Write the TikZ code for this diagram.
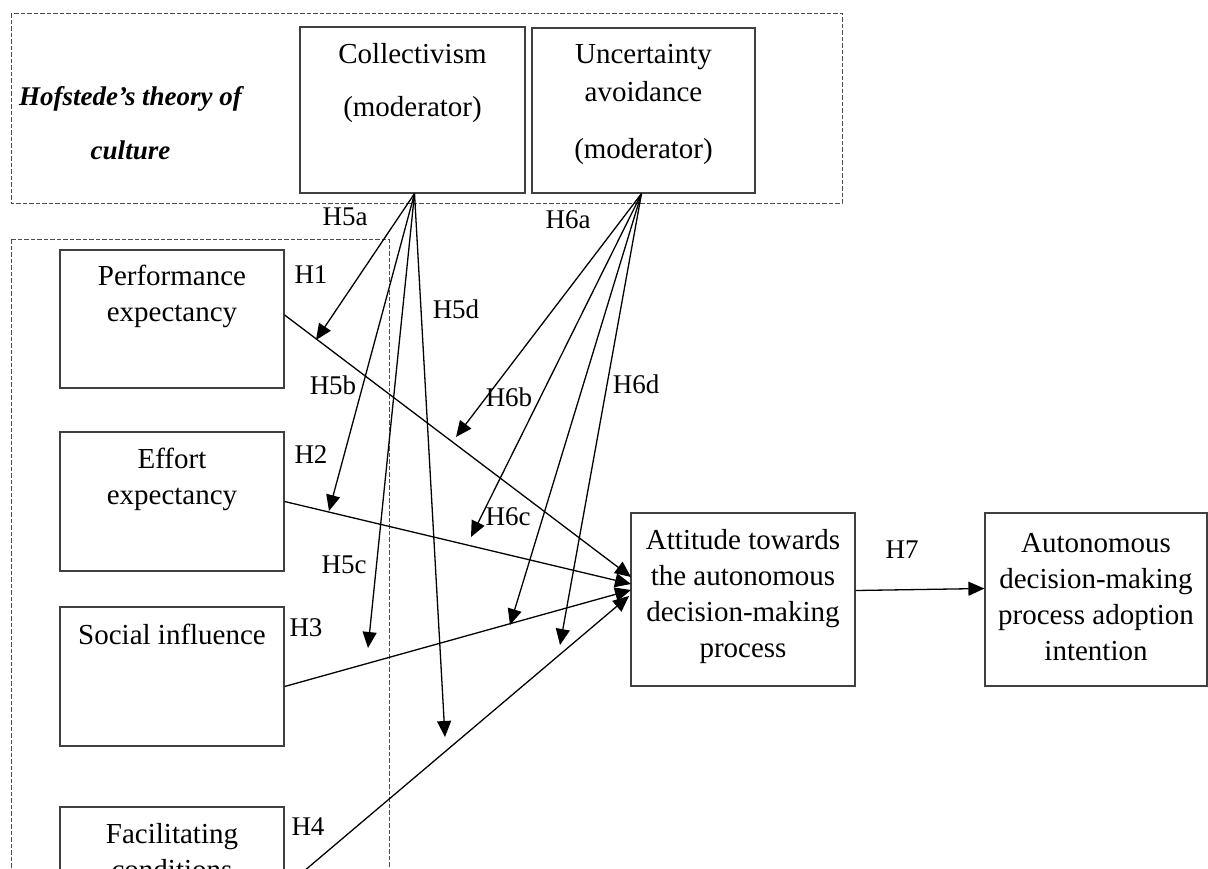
\documentclass[tikz,border=0pt]{standalone}
\usepackage{fontspec}
\setmainfont{Liberation Serif}
\usetikzlibrary{arrows.meta,positioning}

\tikzset{
  box/.style={draw=black!75, line width=1.2pt, rectangle, inner sep=0pt},
  btxt/.style={align=center, inner sep=0pt, font=\fontsize{29}{36}\selectfont},
  hyp/.style={inner sep=0pt, font=\fontsize{27}{32}\selectfont},
  arr/.style={line width=1.3pt, -{Triangle[length=16pt,width=14pt]}},
  frame/.style={draw=black!70, line width=1pt, dash pattern=on 4.5pt off 2pt}
}

\begin{document}
\begin{tikzpicture}[x=1pt,y=-1pt]
  \useasboundingbox (0,0) rectangle (1208,868);

  % dashed groups
  \draw[frame] (11,13) rectangle (842,203);
  \draw[frame] (11,239) rectangle (389,900);

  % moderators
  \node[box, minimum width=225pt, minimum height=166pt] (coll) at (412.5,110) {};
  \node[box, minimum width=223pt, minimum height=165pt] (unc) at (643.5,110.5) {};
  \node[btxt] (collt) at (412.5,83) {Collectivism\\[17pt](moderator)};
  \node[btxt] (unct) at (643.5,104) {Uncertainty\\[2pt]avoidance\\[21pt](moderator)};
  \node[btxt, font=\fontsize{27}{36}\selectfont\bfseries\itshape] (hof) at (130.5,123) {Hofstede’s theory of\\[18pt]culture};

  % predictors
  \node[box, minimum width=224pt, minimum height=138pt] (perf) at (172,319) {};
  \node[box, minimum width=224pt, minimum height=139pt] (eff) at (172,501.5) {};
  \node[box, minimum width=224pt, minimum height=139pt] (soc) at (172,676.5) {};
  \node[box, minimum width=224pt, minimum height=139pt] (fac) at (172,876.5) {};
  \node[btxt] (perft) at (172,296) {Performance\\expectancy};
  \node[btxt] (efft) at (172,479) {Effort\\expectancy};
  \node[btxt] (soct) at (172,634) {Social influence};
  \node[btxt] (fact) at (172,852) {Facilitating\\conditions};

  % outcomes
  \node[box, minimum width=224pt, minimum height=173pt] (att) at (743,599.5) {};
  \node[box, minimum width=222pt, minimum height=173pt] (aut) at (1096,599.5) {};
  \node[btxt] (attt) at (743,597) {Attitude towards\\the autonomous\\decision-making\\process};
  \node[btxt] (autt) at (1096,597) {Autonomous\\decision-making\\process adoption\\intention};

  % arrow ends
  \coordinate (a1) at (631,577);
  \coordinate (a2) at (631,584);
  \coordinate (a3) at (631,590);
  \coordinate (a4) at (629,596);
  \coordinate (h5a) at (316,340);
  \coordinate (h5b) at (329,511);
  \coordinate (h5c) at (368,648);
  \coordinate (h5d) at (445,737);
  \coordinate (h6a) at (456,437);
  \coordinate (h6b) at (471,537);
  \coordinate (h6c) at (510,625);
  \coordinate (h6d) at (560,645);

  % direct paths
  \draw[arr] ([yshift=4pt]perf.east) -- (a1);
  \draw[arr] (eff.east) -- (a2);
  \draw[arr] ([yshift=-10pt]soc.east) -- (a3);
  \draw[arr] ([yshift=-11pt]fac.east) -- (a4);
  \draw[arr] ([yshift=9pt]att.east) -- ([yshift=11pt]aut.west);

  % moderating paths
  \foreach \t in {h5a,h5b,h5c,h5d}
    \draw[arr] ([xshift=2pt]coll.south) -- (\t);
  \foreach \t in {h6a,h6b,h6c,h6d}
    \draw[arr] ([xshift=-2pt]unc.south) -- (\t);

  % hypothesis labels
  \node[hyp] (l5a) at (345,217) {H5a};
  \node[hyp] (l6a) at (568,220) {H6a};
  \node[hyp] (l1) at (311,275) {H1};
  \node[hyp] (l5d) at (456,309) {H5d};
  \node[hyp] (l5b) at (333,385) {H5b};
  \node[hyp] (l6b) at (509,397) {H6b};
  \node[hyp] (l6d) at (636,384) {H6d};
  \node[hyp] (l2) at (311,455) {H2};
  \node[hyp] (l6c) at (508,517) {H6c};
  \node[hyp] (l5c) at (344,565) {H5c};
  \node[hyp] (l3) at (306,628) {H3};
  \node[hyp] (l4) at (308,827) {H4};
  \node[hyp] (l7) at (902,550) {H7};
\end{tikzpicture}
\end{document}
